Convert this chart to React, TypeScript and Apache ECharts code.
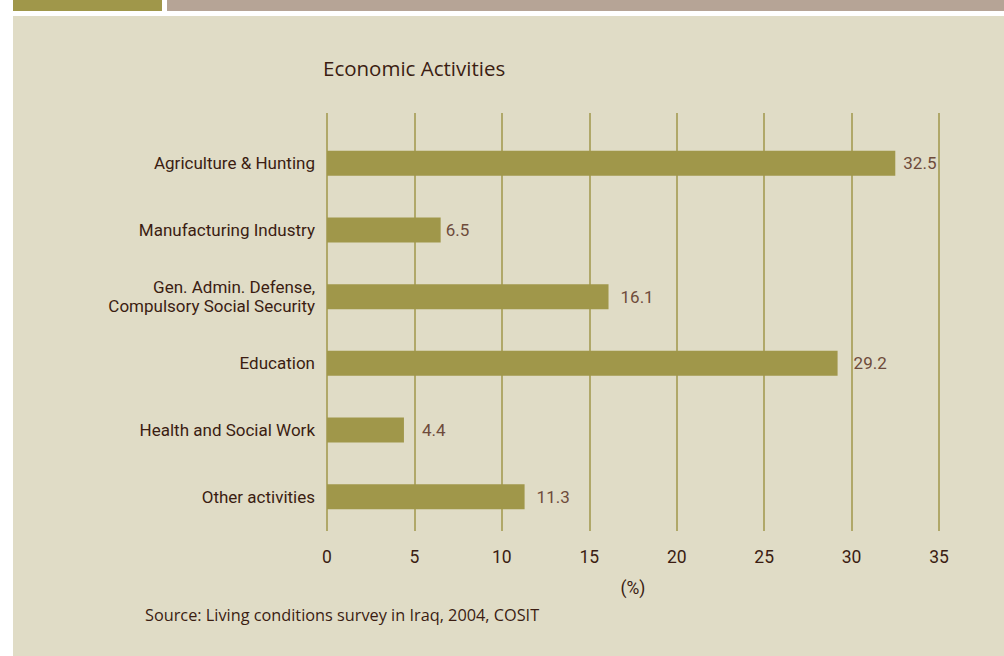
import React, { useEffect, useRef } from "react";
import * as echarts from "echarts";

const categories = [
  "Agriculture & Hunting",
  "Manufacturing Industry",
  "Gen. Admin. Defense,\nCompulsory Social Security",
  "Education",
  "Health and Social Work",
  "Other activities",
];
const values = [32.5, 6.5, 16.1, 29.2, 4.4, 11.3];
const xTicks = { min: 0, max: 35, interval: 5 };
const titleText = "Economic Activities";
const axisName = "(%)";
const sourceText = "Source: Living conditions survey in Iraq, 2004, COSIT";

const BG = "#E0DCC6";
const OLIVE = "#A0974A";
const TEXT = "#3B1D12";
const VALUE = "#6E4B3B";
const COND = "Roboto, 'Liberation Sans Narrow', sans-serif";
const PLAIN = "'Open Sans', sans-serif";
// label gaps (style only) as in the original layout
const LABEL_GAPS = [8, 5, 12, 16, 18, 12];

export default function App() {
  const ref = useRef<HTMLDivElement>(null);
  useEffect(() => {
    if (!ref.current) return;
    const chart = echarts.init(ref.current, undefined, { renderer: "svg" });
    chart.setOption({
      animation: false,
      backgroundColor: "#ffffff",
      title: {
        text: titleText,
        left: 318,
        top: 52,
        textStyle: { fontFamily: PLAIN, fontSize: 20.5, fontWeight: "normal", color: TEXT },
      },
      graphic: [
        { type: "rect", z: -10, shape: { x: 13, y: 0, width: 149, height: 11 }, style: { fill: OLIVE } },
        { type: "rect", z: -10, shape: { x: 167, y: 0, width: 837, height: 11 }, style: { fill: "#B6A496" } },
        { type: "rect", z: -10, shape: { x: 13, y: 16, width: 991, height: 640 }, style: { fill: BG } },
        {
          type: "text",
          left: 145,
          top: 607,
          style: { text: sourceText, fontFamily: PLAIN, fontSize: 16.3, fill: TEXT },
        },
      ],
      grid: [
        { left: 327, right: 65, top: 113, bottom: 125, containLabel: false },
        { left: 327, right: 65, top: 130, bottom: 126, containLabel: false },
      ],
      xAxis: [
        {
          type: "value",
          gridIndex: 0,
          min: xTicks.min,
          max: xTicks.max,
          interval: xTicks.interval,
          axisLine: { show: false },
          axisTick: { show: false },
          splitLine: { show: true, lineStyle: { color: OLIVE, width: 1.5 } },
          axisLabel: { margin: 17, fontFamily: COND, fontSize: 17.5, color: TEXT },
          name: axisName,
          nameLocation: "middle",
          nameGap: 48,
          nameTextStyle: { fontFamily: COND, fontSize: 17.5, color: TEXT },
        },
        {
          type: "value",
          gridIndex: 1,
          min: xTicks.min,
          max: xTicks.max,
          interval: xTicks.interval,
          show: false,
        },
      ],
      yAxis: [
        {
          type: "category",
          gridIndex: 0,
          data: categories,
          show: false,
        },
        {
          type: "category",
          gridIndex: 1,
          data: categories,
          inverse: true,
          axisLine: { show: false },
          axisTick: { show: false },
          splitLine: { show: false },
          axisLabel: {
            margin: 12,
            fontFamily: COND,
            fontSize: 17,
            lineHeight: 19,
            color: TEXT,
            align: "right",
          },
        },
      ],
      series: [
        {
          type: "bar",
          xAxisIndex: 1,
          yAxisIndex: 1,
          barWidth: 25,
          itemStyle: { color: OLIVE },
          label: {
            show: true,
            position: "right",
            distance: 8,
            fontFamily: COND,
            fontSize: 17,
            color: VALUE,
          },
          data: values.map((v, i) => ({ value: v, label: { distance: LABEL_GAPS[i] } })),
        },
      ],
    });
    return () => chart.dispose();
  }, []);
  return (
    <div
      ref={ref}
      style={{ position: "absolute", left: 0, top: 0, width: 1004, height: 656 }}
    />
  );
}
